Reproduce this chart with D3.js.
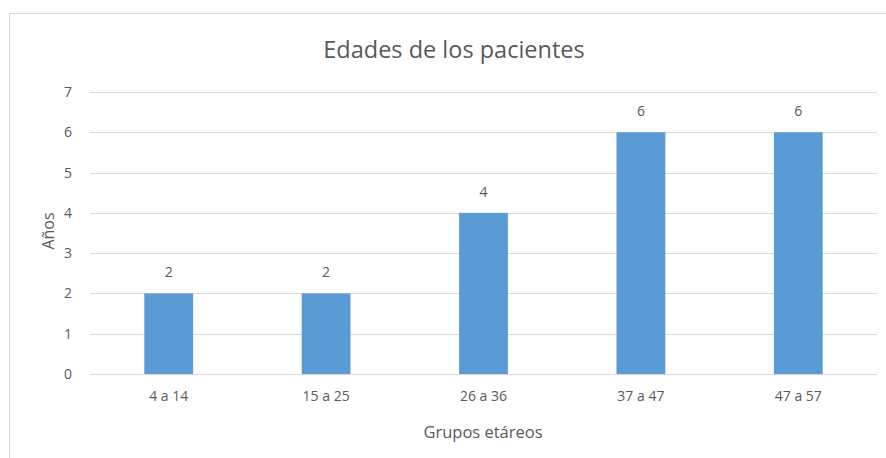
<!DOCTYPE html>
<html>
<head>
<meta charset="utf-8">
<script src="https://cdn.jsdelivr.net/npm/d3@7"></script>
<style>
  body { margin: 0; background: #fff; }
  text { font-family: "Open Sans", sans-serif; fill: #595959; }
</style>
</head>
<body>
<svg width="886" height="458"></svg>
<script>
var groups = ["4 a 14", "15 a 25", "26 a 36", "37 a 47", "47 a 57"];
var counts = [2, 2, 4, 6, 6];
var yTicks = [0, 1, 2, 3, 4, 5, 6, 7];

var width = 886;
var height = 458;
var margin = {left: 90, right: 9, top: 92, bottom: 84};

var svg = d3.select('svg');

// chart frame
svg.append("rect")
  .attr("x", 9.5)
  .attr("y", 13.5)
  .attr("width", 900)
  .attr("height", 500)
  .attr("fill", "none")
  .attr("stroke", "#d9d9d9");

var x = d3.scaleBand().domain(groups).range([margin.left, width - margin.right]).paddingInner(0.69).paddingOuter(0.345);
var y = d3.scaleLinear().domain([0, 7]).range([height - margin.bottom, margin.top]);

// gridlines
svg.append("g")
  .selectAll("line")
  .data(yTicks)
  .enter()
  .append("line")
  .attr("x1", margin.left)
  .attr("x2", width - margin.right)
  .attr("y1", function(d) { return Math.round(y(d)) + 0.5; })
  .attr("y2", function(d) { return Math.round(y(d)) + 0.5; })
  .attr("stroke", "#d9d9d9")
  .attr("stroke-width", 1);

var axisLeft = d3.axisLeft(y).tickValues(yTicks).tickFormat(d3.format("d")).tickSize(0).tickPadding(18);
var gy = svg.append("g")
  .attr("transform", "translate(" + margin.left + ",0)")
  .call(axisLeft);
gy.select(".domain").remove();
gy.selectAll("text").style("font-size", "14px").attr("fill", "#595959");

var axisBottom = d3.axisBottom(x).tickSize(0).tickPadding(17);
var gx = svg.append("g")
  .attr("transform", "translate(0," + (height - margin.bottom) + ")")
  .call(axisBottom);
gx.select(".domain").remove();
gx.selectAll("text").style("font-size", "14px").attr("fill", "#595959");

svg.append("g")
  .selectAll("rect")
  .data(groups)
  .enter()
  .append("rect")
  .attr("x", function(d) { return x(d); })
  .attr("y", function(d, i) { return y(counts[i]); })
  .attr("width", x.bandwidth())
  .attr("height", function(d, i) { return y(0) - y(counts[i]); })
  .attr("fill", "#5b9bd5");

// data labels
svg.append("g")
  .selectAll("text")
  .data(groups)
  .enter()
  .append("text")
  .attr("x", function(d) { return x(d) + x.bandwidth() / 2; })
  .attr("y", function(d, i) { return y(counts[i]) - 16; })
  .attr("text-anchor", "middle")
  .style("font-size", "14px")
  .text(function(d, i) { return counts[i]; });

// title
svg.append("text")
  .attr("x", 454)
  .attr("y", 58)
  .attr("text-anchor", "middle")
  .style("font-size", "23.5px")
  .text("Edades de los pacientes");

// y axis title
svg.append("text")
  .attr("transform", "translate(54,231) rotate(-90)")
  .attr("text-anchor", "middle")
  .style("font-size", "16px")
  .text("Años");

// x axis title
svg.append("text")
  .attr("x", 483)
  .attr("y", 438)
  .attr("text-anchor", "middle")
  .style("font-size", "16.5px")
  .text("Grupos etáreos");
</script>
</body>
</html>
